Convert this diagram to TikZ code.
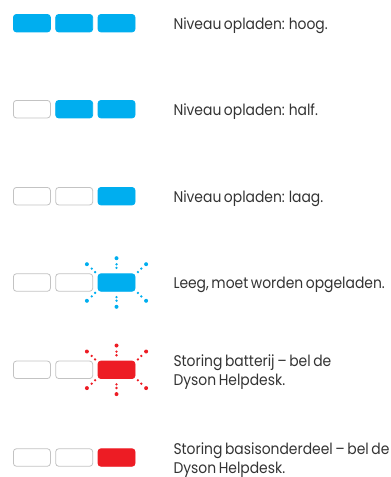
\documentclass[tikz,border=0pt]{standalone}
\usepackage{fontspec}
\setmainfont[FakeStretch=0.9, WordSpace=0.7]{Poppins}
\usetikzlibrary{positioning, calc}
\definecolor{chargeblue}{RGB}{0, 174, 239}
\definecolor{faultred}{RGB}{237, 28, 36}
\definecolor{emptygray}{RGB}{195, 195, 195}
\tikzset{
  cell/.style={rectangle, rounded corners=3bp, minimum width=37bp, minimum height=17.5bp, inner sep=0pt, line width=0.8bp},
  cellempty/.style={cell, draw=emptygray, fill=white},
  cellblue/.style={cell, draw=chargeblue, fill=chargeblue},
  cellred/.style={cell, draw=faultred, fill=faultred}
}

\begin{document}
\begin{tikzpicture}[
    x=1bp, y=-1bp,
    note/.style={anchor=base west, align=left, inner sep=0pt, text=black!80, font=\fontsize{15.5}{18.8}\selectfont}
]
    \useasboundingbox (0,0) rectangle (390,477);

    % Battery cells, one row per state
    \node[cellblue] (r1a) at (31.9, 23.2) {};
    \node[cellblue, right=4.5bp of r1a] (r1b) {};
    \node[cellblue, right=4.5bp of r1b] (r1c) {};

    \node[cellempty] (r2a) at (31.9, 109.2) {};
    \node[cellblue, right=4.5bp of r2a] (r2b) {};
    \node[cellblue, right=4.5bp of r2b] (r2c) {};

    \node[cellempty] (r3a) at (31.9, 196.2) {};
    \node[cellempty, right=4.5bp of r3a] (r3b) {};
    \node[cellblue, right=4.5bp of r3b] (r3c) {};

    \node[cellempty] (r4a) at (31.9, 282.5) {};
    \node[cellempty, right=4.5bp of r4a] (r4b) {};
    \node[cellblue, right=4.5bp of r4b] (r4c) {};

    \node[cellempty] (r5a) at (31.9, 369.8) {};
    \node[cellempty, right=4.5bp of r5a] (r5b) {};
    \node[cellred, right=4.5bp of r5b] (r5c) {};

    \node[cellempty] (r6a) at (31.9, 457.5) {};
    \node[cellempty, right=4.5bp of r6a] (r6b) {};
    \node[cellred, right=4.5bp of r6b] (r6c) {};

    % Flashing rays
    \foreach \cellname/\raycol in {r4c/chargeblue, r5c/faultred} {
        \begin{scope}[shift={(\cellname.center)}, fill=\raycol]
            \foreach \s in {1,-1} {
                \fill (0, \s*24.3) circle (2bp);
                \fill (0, \s*18.2) circle (1.3bp);
                \fill (0, \s*14.6) circle (1.3bp);
            }
            \foreach \sx in {1,-1} \foreach \sy in {1,-1} {
                \fill (\sx*29.6, \sy*18.3) circle (2bp);
                \fill (\sx*24.8, \sy*13.9) circle (1.3bp);
                \fill (\sx*21.4, \sy*10.4) circle (1.3bp);
            }
        \end{scope}
    }

    % Labels
    \node[note] (t1) at ($(r1c.center)+(56.8,6)$) {Niveau opladen: hoog.};
    \node[note] (t2) at ($(r2c.center)+(56.8,6)$) {Niveau opladen: half.};
    \node[note] (t3) at ($(r3c.center)+(56.8,6)$) {Niveau opladen: laag.};
    \node[note] (t4) at ($(r4c.center)+(56.8,6)$) {Leeg, moet worden opgeladen.};
    \node[note] (t5) at ($(r5c.center)+(56.8,15.8)$) {Storing batterij – bel de\\Dyson Helpdesk.};
    \node[note] (t6) at ($(r6c.center)+(56.8,15.8)$) {Storing basisonderdeel – bel de\\Dyson Helpdesk.};
\end{tikzpicture}
\end{document}
